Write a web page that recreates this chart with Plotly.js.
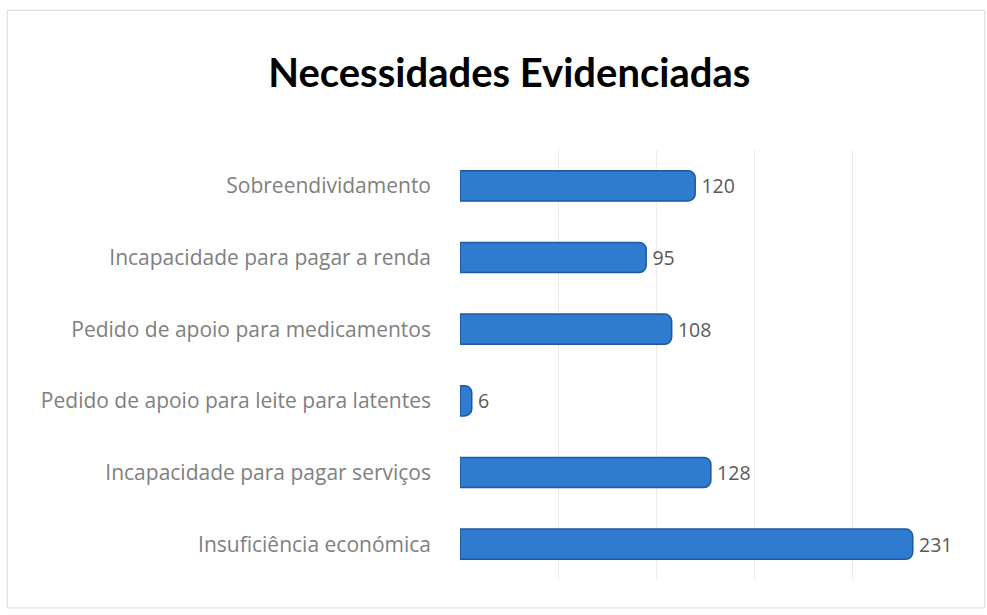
<!DOCTYPE html>
<html>
<head>
<meta charset="utf-8">
<script src="https://cdn.plot.ly/plotly-3.0.1.min.js"></script>
<style>
html,body{margin:0;padding:0;background:#fff;}
#chart{width:987px;height:615px;}
</style>
</head>
<body>
<div id="chart"></div>
<script>
const categories = [
  "Sobreendividamento",
  "Incapacidade para pagar a renda",
  "Pedido de apoio para medicamentos",
  "Pedido de apoio para leite para latentes",
  "Incapacidade para pagar serviços",
  "Insuficiência económica"
];
const values = [120, 95, 108, 6, 128, 231];
const chartTitle = "Necessidades Evidenciadas";

const trace = {
  type: "bar",
  orientation: "h",
  y: categories,
  x: values,
  text: values.map(v => "\u2009" + v),
  textposition: "outside",
  cliponaxis: false,
  textfont: {family: "'Open Sans', sans-serif", size: 19.5, color: "#595959"},
  marker: {color: "#2f7bd0", line: {color: "#1d5a9e", width: 1.5}, cornerradius: 7},
  hoverinfo: "skip"
};

const layout = {
  width: 987,
  height: 615,
  paper_bgcolor: "#ffffff",
  plot_bgcolor: "#ffffff",
  margin: {l: 460, r: 37, t: 150, b: 35},
  title: {
    text: "<b>" + chartTitle + "</b>",
    x: 0.516, xanchor: "center", y: 0.882, yanchor: "middle",
    font: {family: "Lato, 'Open Sans', sans-serif", size: 40, color: "#000000"}
  },
  bargap: 0.58,
  showlegend: false,
  xaxis: {
    range: [0, 250],
    dtick: 50,
    showticklabels: false,
    showgrid: true,
    gridcolor: "#ececec",
    gridwidth: 1,
    zeroline: false,
    showline: false,
    fixedrange: true
  },
  yaxis: {
    autorange: "reversed",
    showgrid: false,
    showline: false,
    ticks: "",
    ticklabelstandoff: 28,
    tickfont: {family: "'Open Sans', sans-serif", size: 21, color: "#808080"},
    fixedrange: true
  },
  shapes: [{
    type: "rect", xref: "paper", yref: "paper",
    x0: -0.924, x1: 1.071, y0: -0.065, y1: 1.325,
    line: {color: "#d9d9d9", width: 1}
  }]
};

Plotly.newPlot("chart", [trace], layout, {displayModeBar: false, staticPlot: true});
</script>
</body>
</html>
